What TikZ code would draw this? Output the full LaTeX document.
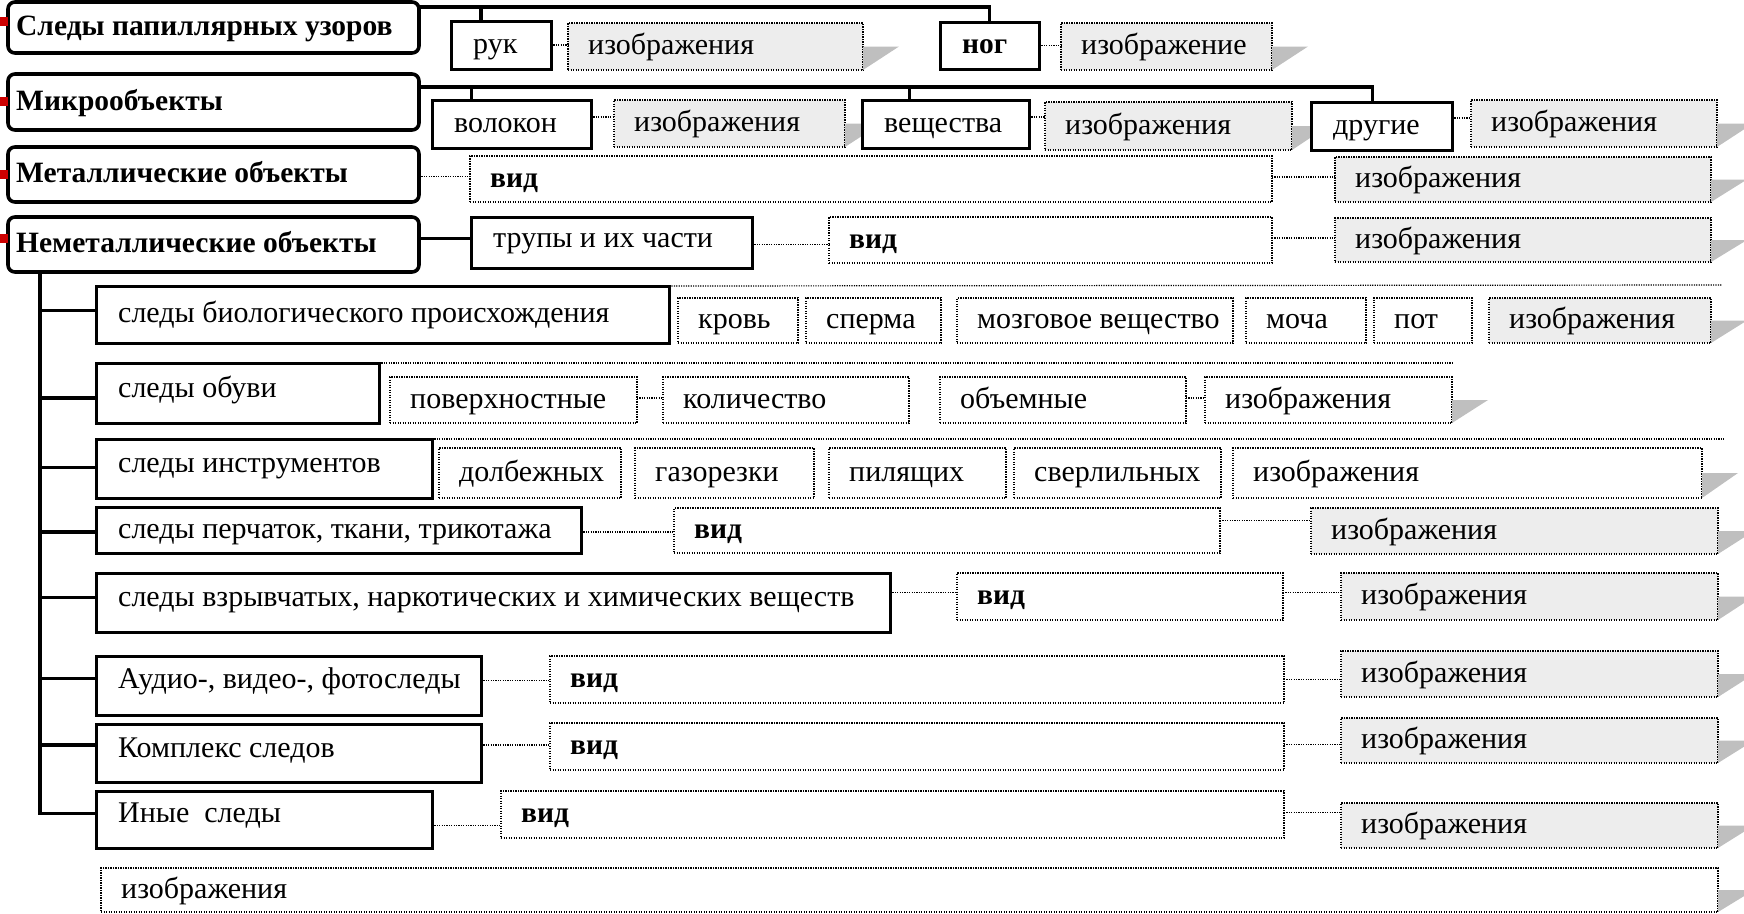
\documentclass[tikz,border=0pt]{standalone}
\usepackage{fontspec}
\setmainfont{Liberation Serif}

\tikzstyle{mainbox} = [draw,line width=3.6pt,rounded corners=7pt,fill=white,inner sep=0pt,outer sep=0pt]
\tikzstyle{subbox} = [draw,line width=3pt,fill=white,inner sep=0pt,outer sep=0pt]
\tikzstyle{dotbox} = [draw,line width=1.3pt,dash pattern=on 1.3pt off 1.2pt,fill=white,inner sep=0pt,outer sep=0pt]
\tikzstyle{imgbox} = [dotbox,fill=gray!14]
\tikzstyle{shadow} = [fill=gray!50]
\tikzstyle{bus} = [draw,line width=3.2pt]
\tikzstyle{link} = [draw,line width=1.2pt,dash pattern=on 1.2pt off 1.2pt]
\tikzstyle{redmark} = [fill=red!80!black]
\tikzstyle{txt} = [inner sep=0pt,anchor=base west,font=\fontsize{30}{34}\selectfont]
\tikzstyle{boldtxt} = [inner sep=0pt,anchor=base west,font=\fontsize{29.5}{34}\selectfont\bfseries]

\begin{document}
\begin{tikzpicture}[x=1pt,y=-1pt]
  \useasboundingbox (0,0) rectangle (1744,913);

  %% boxes with a shadow wedge
  \foreach \n/\xa/\ya/\xb/\yb/\fillst/\lbl in {
    img-ruk/568/23/863/70/imgbox/изображения,
    img-nog/1061/23/1272/70/imgbox/изображение,
    img-vol/614/100/845/147/imgbox/изображения,
    img-vesch/1045/102/1292/150/imgbox/изображения,
    img-drug/1471/100/1717/147/imgbox/изображения,
    img-metal/1335/157/1711/202/imgbox/изображения,
    img-trup/1335/218/1711/262/imgbox/изображения,
    img-bio/1489/298/1711/343/imgbox/изображения,
    img-obuv/1205/377/1452/423/dotbox/изображения,
    img-instr/1233/448/1702/498/dotbox/изображения,
    img-perch/1311/508/1718/554/imgbox/изображения,
    img-vzryv/1341/573/1718/620/imgbox/изображения,
    img-audio/1341/651/1718/697/imgbox/изображения,
    img-kompl/1341/718/1718/763/imgbox/изображения,
    img-inye/1341/803/1718/848/imgbox/изображения,
    img-bottom/101/868/1718/912/dotbox/изображения}
  {
    \pgfmathsetmacro\w{\xb-\xa}
    \pgfmathsetmacro\h{\yb-\ya}
    \node (\n) at (\xa,\ya) [\fillst,anchor=north west,minimum width=\w pt,minimum height=\h pt] {};
    \fill[shadow] (\n.east) -- ++(36,0) -- (\n.south east) -- cycle;
    \node (\n-t) at ([xshift=20pt,yshift=-8pt]\n.west) [txt] {\lbl};
  }

  %% dotted boxes
  \foreach \n/\xa/\ya/\xb/\yb/\fnt/\lbl in {
    vid1/470/156/1272/202/boldtxt/вид,
    vid2/829/217/1272/263/boldtxt/вид,
    krov/678/298/798/343/txt/кровь,
    sperm/806/298/941/343/txt/сперма,
    mozg/957/298/1233/343/txt/мозговое вещество,
    mocha/1246/298/1366/343/txt/моча,
    pot/1374/298/1472/343/txt/пот,
    pov/390/377/637/423/txt/поверхностные,
    kol/663/377/909/423/txt/количество,
    obem/940/377/1186/423/txt/объемные,
    dolb/439/448/621/498/txt/долбежных,
    gaz/635/448/814/498/txt/газорезки,
    pil/829/448/1006/498/txt/пилящих,
    sverl/1014/448/1221/498/txt/сверлильных,
    vid3/674/508/1220/553/boldtxt/вид,
    vid4/957/573/1283/620/boldtxt/вид,
    vid5/550/656/1284/703/boldtxt/вид,
    vid6/550/723/1284/770/boldtxt/вид,
    vid7/501/791/1284/838/boldtxt/вид}
  {
    \pgfmathsetmacro\w{\xb-\xa}
    \pgfmathsetmacro\h{\yb-\ya}
    \node (\n) at (\xa,\ya) [dotbox,anchor=north west,minimum width=\w pt,minimum height=\h pt] {};
    \node (\n-t) at ([xshift=20pt,yshift=-8pt]\n.west) [\fnt] {\lbl};
  }

  %% framed boxes
  \foreach \n/\xa/\ya/\xb/\yb/\dy/\fnt/\lbl in {
    ruk/451/21/551/69/8/txt/рук,
    nog/940/22/1039/69/8/boldtxt/ног,
    vol/432/100/591/148/8/txt/волокон,
    vesch/862/100/1029/148/8/txt/вещества,
    drug/1311/102/1452/150/8/txt/другие,
    trup/471/217/752/268/5/txt/трупы и их части,
    bio/96/286/669/343/8/txt/следы биологического происхождения,
    obuv/96/363/379/423/4/txt/следы обуви,
    instr/96/439/432/498/4/txt/следы инструментов,
    perch/96/507/581/553/8/txt/{следы перчаток, ткани, трикотажа},
    vzryv/96/573/890/632/4/txt/{следы взрывчатых, наркотических и химических веществ},
    audio/96/656/481/715/3/txt/{Аудио-, видео-, фотоследы},
    kompl/96/724/481/782/4/txt/Комплекс следов,
    inye/96/791/432/848/3/txt/Иные\ \ следы}
  {
    \pgfmathsetmacro\w{\xb-\xa}
    \pgfmathsetmacro\h{\yb-\ya}
    \node (\n) at (\xa,\ya) [subbox,anchor=north west,minimum width=\w pt,minimum height=\h pt] {};
    \node (\n-t) at ([xshift=22pt,yshift=-\dy pt]\n.west) [\fnt] {\lbl};
  }

  %% main groups
  \foreach \n/\ya/\yb/\lbl in {
    sled/2/53/Следы папиллярных узоров,
    micro/74/130/Микрообъекты,
    metal/147/202/Металлические объекты,
    nemet/217/272/Неметаллические объекты}
  {
    \pgfmathsetmacro\h{\yb-\ya}
    \node (\n) at (8,\ya) [mainbox,anchor=north west,minimum width=411pt,minimum height=\h pt] {};
    \node (\n-t) at ([xshift=8pt,yshift=-8pt]\n.west) [boldtxt] {\lbl};
  }
  \foreach \ya/\yb in {17/26, 97/106, 170/179, 234/243}
    \fill[redmark] (0,\ya) rectangle (8,\yb);

  %% solid connectors
  \coordinate (bus1) at (0,7);
  \coordinate (bus2) at (0,87);
  \draw[bus] (sled.east |- bus1) -| (nog.north);
  \draw[bus] ([xshift=-20pt]ruk.north) -- ([xshift=-20pt]ruk.north |- bus1);
  \draw[bus] (micro.east |- bus2) -| ([xshift=-9pt]drug.north);
  \foreach \n/\dx in {vol/-40, vesch/-36}
    \draw[bus] ([xshift=\dx pt]\n.north) -- ([xshift=\dx pt]\n.north |- bus2);
  \draw[bus] ([yshift=4pt]trup.west -| nemet.east) -- ([yshift=4pt]trup.west);
  \coordinate (tr) at ([xshift=32pt]nemet.south west);
  \draw[bus] (tr) |- ([yshift=6pt]inye.west);
  \foreach \n/\dy in {bio/4, obuv/-5, instr/1, perch/-2, vzryv/5, audio/7, kompl/8}
    \draw[bus] ([yshift=\dy pt]\n.west) -- ([yshift=\dy pt]\n.west -| tr);

  %% dotted connectors
  \foreach \a/\b/\dy in {ruk/img-ruk/0, nog/img-nog/0, vol/img-vol/7, vesch/img-vesch/7,
    drug/img-drug/8, metal/vid1/-2, vid1/img-metal/2, trup/vid2/-2, vid2/img-trup/2,
    pov/kol/2, obem/img-obuv/2, perch/vid3/-2, vid3/img-perch/10, vzryv/vid4/10,
    vid4/img-vzryv/4, audio/vid5/5, vid5/img-audio/0, kompl/vid6/8, vid6/img-kompl/2,
    inye/vid7/-6, vid7/img-inye/2}
    \draw[link] ([yshift=\dy pt]\a.east) -- ([yshift=\dy pt]\a.east -| \b.west);
  \coordinate (bio-end) at (1722,285);
  \coordinate (obuv-end) at (1452,363);
  \coordinate (instr-end) at (1724,439);
  \foreach \n in {bio, obuv, instr}
    \draw[link] (\n.north east) -- (\n-end);
\end{tikzpicture}
\end{document}
